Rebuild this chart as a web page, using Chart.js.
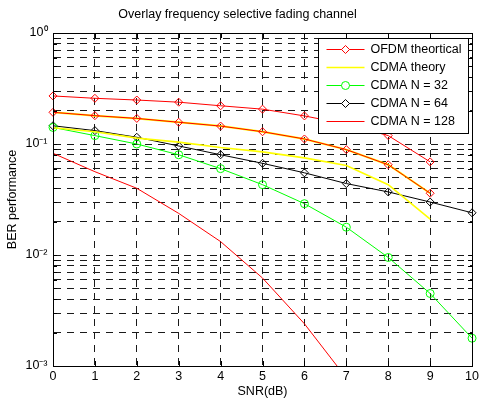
<!DOCTYPE html>
<html>
<head>
<meta charset="utf-8">
<title>Overlay frequency selective fading channel</title>
<script src="https://cdn.jsdelivr.net/npm/chart.js@4/dist/chart.umd.min.js"></script>
<style>
  body { margin: 0; background: #fff; }
  #wrap { width: 482px; height: 400px; }
</style>
</head>
<body>
<div id="wrap"><canvas id="berChart" width="482" height="400"></canvas></div>
<script>
// SNR axis (dB)
var snr = [0, 1, 2, 3, 4, 5, 6, 7, 8, 9, 10];

// BER values
var ofdmTheory = [0.271, 0.258, 0.249, 0.238, 0.221, 0.206, 0.179, 0.151, 0.119, 0.069, null];
var cdmaTheory = [0.140, 0.129, 0.113, 0.104, 0.093, 0.085, 0.075, 0.064, 0.043, 0.021, null];
var cdmaN32    = [0.141, 0.119, 0.100, 0.080, 0.060, 0.043, 0.029, 0.0178, 0.0095, 0.0045, 0.00178];
var cdmaN64    = [0.146, 0.132, 0.115, 0.096, 0.080, 0.067, 0.055, 0.044, 0.037, 0.030, 0.024];
var cdmaN128   = [0.0825, 0.0563, 0.0399, 0.0237, 0.0132, 0.0062, 0.0024, 0.00078, null, null, null];
// two extra curves that are not in the legend (red diamonds with a yellow line under it)
var extraRed    = [0.193, 0.180, 0.170, 0.157, 0.145, 0.129, 0.111, 0.089, 0.065, 0.036, null];
var extraYellow = [0.193, 0.180, 0.170, 0.157, 0.145, 0.129, 0.111, 0.089, 0.065, 0.036, null];

// y axis decades and their labels
var decades = [0.001, 0.01, 0.1, 1];
var decadeLabels = ['10\u207B\u00B3', '10\u207B\u00B2', '10\u207B\u00B9', '10\u2070'];

var FONT = "'Liberation Sans', Arial, Helvetica, sans-serif";
var fnt = { family: FONT, size: 12.5, weight: 'normal' };

// every 1..9 x 10^k gets a dashed grid line
var yTickValues = [];
decades.forEach(function (d, i) {
    if (i == decades.length - 1) { yTickValues.push(d); return; }
    for (var k = 1; k <= 9; k++) yTickValues.push(+(d * k).toPrecision(3));
});

function ds(label, data, color, style, extra) {
    var o = {
        label: label,
        data: data,
        borderColor: color,
        backgroundColor: color,
        borderWidth: 1,
        tension: 0,
        pointStyle: style || 'circle',
        pointRadius: style ? 4 : 0,
        pointBackgroundColor: 'rgba(0,0,0,0)',
        pointBorderColor: color,
        pointBorderWidth: 1
    };
    for (var k in extra) o[k] = extra[k];
    return o;
}

// box round the axes, inward ticks and the legend
var framePlugin = {
    id: 'frame',
    afterDraw: function (chart) {
        var ctx = chart.ctx, ca = chart.chartArea;
        var xs = chart.scales.x, ys = chart.scales.y;
        ctx.save();
        ctx.strokeStyle = '#000';
        ctx.lineWidth = 1;
        ctx.setLineDash([]);
        ctx.beginPath();
        xs.ticks.forEach(function (t, i) {
            var px = Math.round(xs.getPixelForTick(i)) + 0.5;
            ctx.moveTo(px, ca.bottom); ctx.lineTo(px, ca.bottom - 5);
            ctx.moveTo(px, ca.top); ctx.lineTo(px, ca.top + 5);
        });
        ys.ticks.forEach(function (t) {
            var py = Math.round(ys.getPixelForValue(t.value)) + 0.5;
            ctx.moveTo(ca.left, py); ctx.lineTo(ca.left + 4, py);
            ctx.moveTo(ca.right, py); ctx.lineTo(ca.right - 4, py);
        });
        ctx.stroke();
        ctx.strokeRect(Math.round(ca.left) + 0.5, Math.round(ca.top) + 0.5,
                       Math.round(ca.right - ca.left), Math.round(ca.bottom - ca.top));

        // legend
        var bx = Math.round(ca.right) - 154 + 0.5, by = Math.round(ca.top) + 5 + 0.5;
        var bw = 150, bh = 95, rowH = 18.1;
        ctx.fillStyle = '#fff';
        ctx.fillRect(bx, by, bw, bh);
        ctx.strokeRect(bx, by, bw, bh);
        ctx.font = '12.5px ' + FONT;
        ctx.textBaseline = 'middle';
        ctx.textAlign = 'left';
        for (var i = 0; i < 5; i++) {
            var d = chart.data.datasets[i];
            var yc = Math.round(by + 10 + i * rowH) + 0.5;
            ctx.strokeStyle = d.borderColor;
            ctx.lineWidth = d.borderWidth;
            ctx.beginPath();
            ctx.moveTo(bx + 8, yc); ctx.lineTo(bx + 46, yc);
            ctx.stroke();
            ctx.lineWidth = 1;
            var mx = bx + 27;
            if (d.pointRadius > 0) {
                ctx.beginPath();
                if (d.pointStyle === 'rectRot') {
                    ctx.moveTo(mx - 4, yc); ctx.lineTo(mx, yc - 4);
                    ctx.lineTo(mx + 4, yc); ctx.lineTo(mx, yc + 4);
                    ctx.closePath();
                } else {
                    ctx.arc(mx, yc, 4, 0, Math.PI * 2);
                }
                ctx.fillStyle = '#fff';
                ctx.fill();
                ctx.stroke();
            }
            ctx.fillStyle = '#000';
            ctx.fillText(d.label, bx + 52, yc + 0.5);
        }
        ctx.restore();
    }
};

var chart = new Chart(document.getElementById('berChart').getContext('2d'), {
    type: 'line',
    data: {
        labels: snr,
        datasets: [
            ds('OFDM theortical', ofdmTheory, '#ff0000', 'rectRot'),
            ds('CDMA theory', cdmaTheory, '#ffff00', null, { borderWidth: 1.6 }),
            ds('CDMA N = 32', cdmaN32, '#00ff00', 'circle'),
            ds('CDMA N = 64', cdmaN64, '#000000', 'rectRot'),
            ds('CDMA N = 128', cdmaN128, '#ff0000'),
            ds('', extraRed, '#ff0000', 'rectRot'),
            ds('', extraYellow, '#ffff00', null, { borderWidth: 2 })
        ]
    },
    options: {
        responsive: false,
        animation: false,
        devicePixelRatio: 1,
        layout: { padding: { left: 0, right: 7, top: 0, bottom: 0 } },
        plugins: {
            legend: { display: false },
            tooltip: { enabled: false },
            title: {
                display: true,
                text: 'Overlay frequency selective fading channel',
                color: '#000',
                font: fnt,
                padding: { top: 7.5, bottom: 10.5 }
            }
        },
        scales: {
            x: {
                type: 'category',
                offset: false,
                grid: { color: '#1a1a1a', lineWidth: 1, drawTicks: false },
                border: { display: true, color: '#000', dash: [7, 6] },
                ticks: { color: '#000', font: fnt, padding: 3, maxRotation: 0, autoSkip: false },
                title: { display: true, text: 'SNR(dB)', color: '#000', font: fnt, padding: { top: 0, bottom: 0.5 } },
                afterFit: function (s) { s.height = 34; }
            },
            y: {
                type: 'logarithmic',
                min: 0.001,
                max: 1,
                afterBuildTicks: function (s) {
                    s.ticks = yTickValues.map(function (v) { return { value: v }; });
                },
                grid: { color: '#1a1a1a', lineWidth: 1, drawTicks: false },
                border: { display: true, color: '#000', dash: [7, 6] },
                ticks: {
                    color: '#000',
                    font: fnt,
                    padding: 5.5,
                    autoSkip: false,
                    callback: function (v) {
                        var i = decades.indexOf(+(+v).toPrecision(3));
                        return i >= 0 ? decadeLabels[i] : '';
                    }
                },
                title: { display: true, text: 'BER performance', color: '#000', font: fnt, padding: { top: 5, bottom: 0 } },
                afterFit: function (s) { s.width = 53; }
            }
        }
    },
    plugins: [framePlugin]
});
</script>
</body>
</html>
